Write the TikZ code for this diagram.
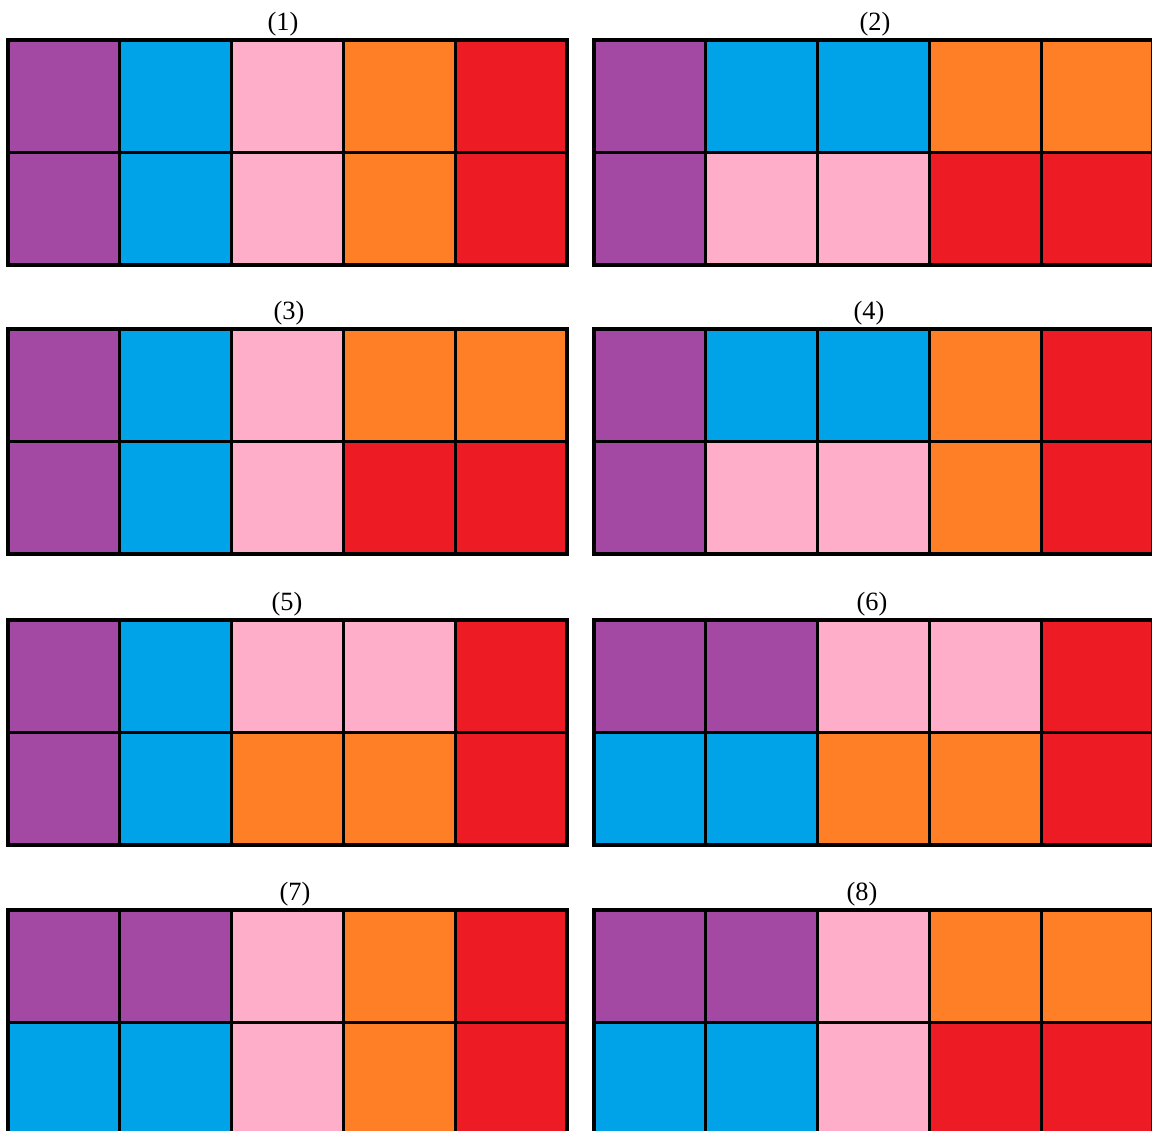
\documentclass[tikz,border=0pt]{standalone}
\usepackage{fontspec}
\setmainfont{Liberation Serif}
\usepackage{xcolor}
\usetikzlibrary{positioning}
\definecolor{pu}{HTML}{A349A4}
\definecolor{bl}{HTML}{00A2E8}
\definecolor{pk}{HTML}{FFAEC9}
\definecolor{or}{HTML}{FF7F27}
\definecolor{rd}{HTML}{ED1C24}
\tikzset{
  %% One coloured square of a tiling
  cell/.style={
    rectangle, draw=black, fill=#1,
    minimum width=2.236cm, minimum height=2.25cm,
    inner sep=0pt, outer sep=0pt, line width=1.6pt
  },
  cell/.default=white,
  %% Frame round a whole tiling
  frame/.style={draw=black, line width=2.4pt},
  %% Number above a tiling
  tag/.style={font=\fontsize{15}{17}\selectfont, inner sep=0pt},
}
\begin{document}
\begin{tikzpicture}[x=0.02cm, y=-0.02cm]
  \useasboundingbox (0,0) rectangle (1152,1131);
  \foreach \n/\px/\py/\lx/\upr/\lwr in {
      1/8/40/283/{pu,bl,pk,or,rd}/{pu,bl,pk,or,rd},
      2/594/40/875/{pu,bl,bl,or,or}/{pu,pk,pk,rd,rd},
      3/8/329/289/{pu,bl,pk,or,or}/{pu,bl,pk,rd,rd},
      4/594/329/869/{pu,bl,bl,or,rd}/{pu,pk,pk,or,rd},
      5/8/620/287/{pu,bl,pk,pk,rd}/{pu,bl,or,or,rd},
      6/594/620/872/{pu,pu,pk,pk,rd}/{bl,bl,or,or,rd},
      7/8/910/295/{pu,pu,pk,or,rd}/{bl,bl,pk,or,rd},
      8/594/910/862/{pu,pu,pk,or,or}/{bl,bl,pk,rd,rd}} {
    % top row
    \foreach \c [count=\i from 0] in \upr
      \node[cell=\c] (t\n-\i) at ({\px+(\i+0.5)*111.8}, \py+56.25) {};
    % bottom row
    \foreach \c [count=\i from 0] in \lwr
      \node[cell=\c] (b\n-\i) at ({\px+(\i+0.5)*111.8}, \py+168.75) {};
    \draw[frame] (t\n-0.north west) rectangle (b\n-4.south east);
    \node[tag] (l\n) at (\lx, \py-16) {(\n)};
  }
\end{tikzpicture}
\end{document}
